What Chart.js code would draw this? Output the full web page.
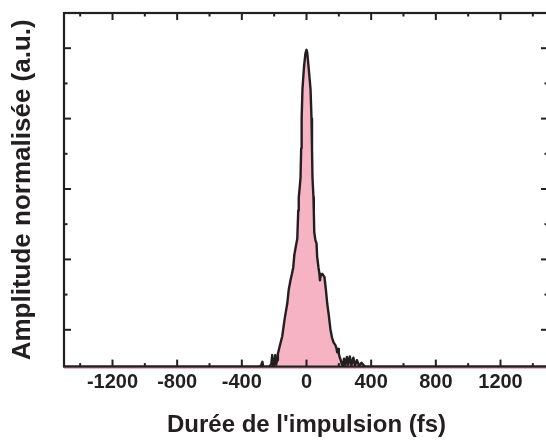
<!DOCTYPE html>
<html><head><meta charset="utf-8">
<script src="https://cdn.jsdelivr.net/npm/chart.js@4.4.1/dist/chart.umd.min.js"></script>
<style>html,body{margin:0;padding:0;overflow:hidden;background:#fff;width:546px;height:440px}canvas{display:block}</style>
</head><body><canvas id="c" width="556" height="440"></canvas>
<script>
// Pulse profile (time in fs, normalized amplitude)
const timeFs = [-1500,-290,-280,-273,-268,-230,-218,-212,-206,-198,-193,-188,-182,-177,-165,-150,-135,-119,-110,-99,-90,-82,-75,-68,-57,-51,-48,-42,-37,-33,-30,-25,-15,-6,0,5,14,25,31,34,37,43,45,48,55,62,66,74,80,83,88,97,104,111,120,128,138,148,158,168,178,185,190,195,200,205,212,218,224,232,240,250,258,268,278,290,300,312,325,340,360,1500];
const amplitude = [0,0,0.005,0.015,0,0,0.008,0.036,0.004,0.015,0.036,0.006,0.02,0.04,0.065,0.095,0.15,0.197,0.24,0.27,0.29,0.31,0.35,0.37,0.40,0.488,0.528,0.56,0.59,0.682,0.775,0.867,0.94,0.98,0.99,0.98,0.93,0.867,0.775,0.682,0.59,0.53,0.49,0.42,0.395,0.385,0.343,0.31,0.29,0.27,0.285,0.29,0.285,0.28,0.24,0.198,0.16,0.117,0.09,0.075,0.068,0.058,0.045,0.055,0.04,0.03,0.02,0.008,0.002,0.025,0.004,0.03,0.006,0.032,0.004,0.028,0.003,0.02,0.002,0.012,0,0];
const xTickLabels = [-1200,-800,-400,0,400,800,1200];
const xMinorTicks = [-1400,-1000,-600,-200,200,600,1000,1400];
const yMajorTicks = [0.115,0.335,0.555,0.775,0.995];
const yMinorTicks = [0.225,0.445,0.665,0.885];
const xTitle = "Durée de l'impulsion (fs)";
const yTitle = "Amplitude normalisée (a.u.)";

const INK = '#231f20';
const FILL = '#f5b3c4';
const FONT = "'Liberation Sans', Arial, sans-serif";

const framePlugin = {
  id: 'frame',
  afterDatasetsDraw(chart) {
    const {ctx, chartArea: a, scales: {x, y}} = chart;
    const seg = (x1, y1, x2, y2) => { ctx.beginPath(); ctx.moveTo(x1, y1); ctx.lineTo(x2, y2); ctx.stroke(); };
    ctx.save();
    ctx.strokeStyle = '#e39aae'; ctx.lineWidth = 1.2;
    seg(a.left, a.bottom + 1.6, a.right, a.bottom + 1.6);
    ctx.strokeStyle = INK; ctx.lineWidth = 2.2;
    ctx.strokeRect(a.left, a.top, a.right - a.left, a.bottom - a.top);
    ctx.lineWidth = 2;
    xTickLabels.forEach(v => { const p = x.getPixelForValue(v); seg(p, a.bottom, p, a.bottom - 7); seg(p, a.top, p, a.top + 7); });
    xMinorTicks.forEach(v => { const p = x.getPixelForValue(v); seg(p, a.bottom, p, a.bottom - 3.5); seg(p, a.top, p, a.top + 3.5); });
    yMajorTicks.forEach(v => { const p = y.getPixelForValue(v); seg(a.left, p, a.left + 7, p); seg(a.right, p, a.right - 8, p); });
    yMinorTicks.forEach(v => { const p = y.getPixelForValue(v); seg(a.left, p, a.left + 3.5, p); seg(a.right, p, a.right - 4.5, p); });
    ctx.restore();
  }
};

new Chart(document.getElementById('c'), {
  type: 'line',
  data: {
    datasets: [{
      data: timeFs.map((t, i) => ({x: t, y: amplitude[i]})),
      borderColor: INK,
      borderWidth: 2.4,
      borderJoinStyle: 'round',
      backgroundColor: FILL,
      fill: 'origin',
      pointRadius: 0,
      tension: 0
    }]
  },
  options: {
    responsive: false,
    animation: false,
    events: [],
    layout: {padding: {left: 0, right: 7, top: 13, bottom: 0}},
    plugins: {legend: {display: false}, tooltip: {enabled: false}},
    scales: {
      x: {
        type: 'linear', min: -1500, max: 1500,
        afterBuildTicks: s => { s.ticks = xTickLabels.map(v => ({value: v})); },
        grid: {display: false, drawTicks: false},
        border: {display: false},
        ticks: {padding: 3.5, color: INK, font: {family: FONT, size: 20, weight: 'bold'}, maxRotation: 0, autoSkip: false, callback: v => String(v)},
        title: {display: true, text: xTitle, color: INK, font: {family: FONT, size: 24, weight: 'bold'}, padding: {top: 13, bottom: 0.6}}
      },
      y: {
        type: 'linear', min: 0, max: 1.105,
        grid: {display: false, drawTicks: false},
        border: {display: false},
        ticks: {display: false},
        title: {display: true, text: yTitle, color: INK, font: {family: FONT, size: 26, weight: 'bold'}, padding: {top: 7, bottom: 25.8}}
      }
    }
  },
  plugins: [framePlugin]
});
</script>
</body></html>
